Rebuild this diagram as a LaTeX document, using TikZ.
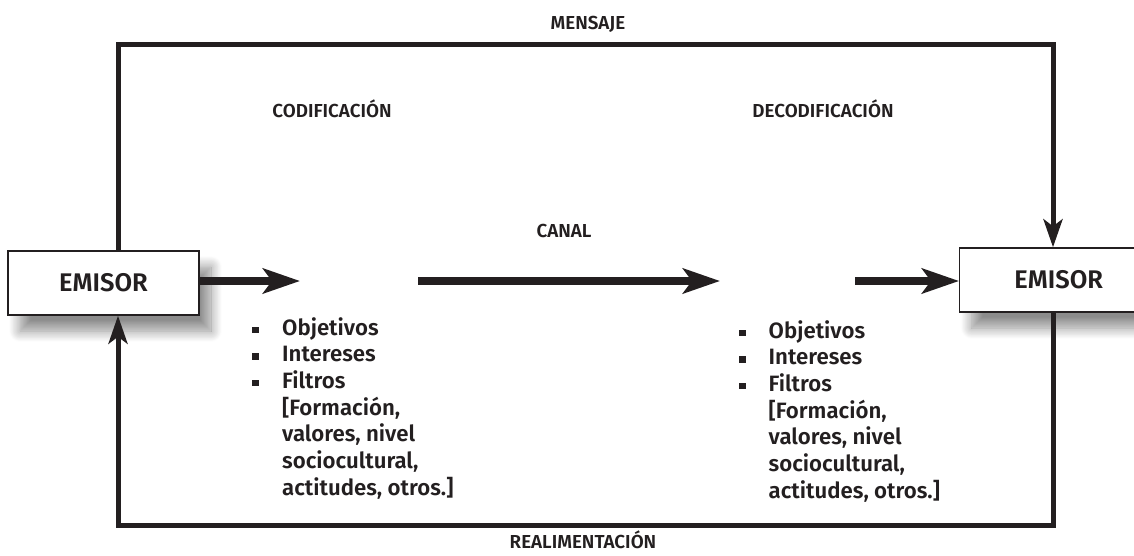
\documentclass[tikz,border=0pt]{standalone}
\usepackage{fontspec}
\setmainfont{Fira Sans}[BoldFont={Fira Sans SemiBold}]
\usetikzlibrary{arrows.meta,shadows.blur}
\definecolor{ink}{HTML}{231F20}
\newcommand\sqbullet{\raisebox{2pt}{\rule{6.5pt}{6.5pt}}}
\begin{document}
\begin{tikzpicture}[x=1pt,y=-1pt,
  every node/.style={text=ink,font=\bfseries},
  label/.style={font=\bfseries\fontsize{18.8}{20}\selectfont},
  emisorbox/.style={draw=ink,line width=1.4pt,fill=white,minimum height=64pt,
    font=\bfseries\fontsize{25.5}{27}\selectfont,
    blur shadow={shadow xshift=12pt,shadow yshift=-16pt,shadow blur radius=11pt,
      shadow opacity=45,shadow blur steps=14}},
  frameline/.style={draw=ink,line width=5pt,line join=miter,
    -{Stealth[length=28pt,width=19pt,inset=7pt]}},
  flowarrow/.style={draw=ink,line width=8pt,
    -{Stealth[length=37pt,width=25pt,inset=9pt]}},
  itemlist/.style={anchor=base west,inner sep=0pt,align=left,
    font=\bfseries\fontsize{22.2}{26.7}\selectfont}
]
\useasboundingbox (0,0) rectangle (1134,556);
\clip (0,0) rectangle (1134,556);

% emitter boxes
\node[emisorbox,minimum width=191pt] (emL) at (103.5,283) {EMISOR};
\node[emisorbox,minimum width=198pt,anchor=west] (emR) at (959,280) {EMISOR};

% corners of the message / feedback loop
\coordinate (tl) at (118,45);
\coordinate (tr) at (1053,45);
\coordinate (bl) at (118,525);
\coordinate (br) at (1053,525);

\draw[frameline] (tl |- emL.north) -- (tl) -- (tr) -- (tr |- emR.north);
\draw[frameline] (br |- emR.south) -- (br) -- (bl) -- (bl |- emL.south);

% channel arrows
\coordinate (c1) at (300,281);
\coordinate (c2s) at (418,281);
\coordinate (c2e) at (720,281);
\coordinate (c3) at (855,281);
\draw[flowarrow] (emL.east |- c1) -- (c1);
\draw[flowarrow] (c2s) -- (c2e);
\draw[flowarrow] (c3) -- (emR.west |- c3);

% labels
\node[label] (mensaje) at (588,24) {MENSAJE};
\node[label] (codif) at (332,109) {CODIFICACIÓN};
\node[label] (decodif) at (823,109) {DECODIFICACIÓN};
\node[label] (canal) at (564,231) {CANAL};
\node[label] (realim) at (583,540) {REALIMENTACIÓN};

% encoder and decoder factors
\node[itemlist] (listL) at (252,335) {%
  \begin{tabular}[t]{@{}l@{\hspace{23.5pt}}l@{}}
  \sqbullet & Objetivos\\
  \sqbullet & Intereses\\
  \sqbullet & Filtros\\
  & [Formación,\\
  & valores, nivel\\
  & sociocultural,\\
  & actitudes, otros.]
  \end{tabular}};
\node[itemlist] (listR) at (739,338) {%
  \begin{tabular}[t]{@{}l@{\hspace{23pt}}l@{}}
  \sqbullet & Objetivos\\
  \sqbullet & Intereses\\
  \sqbullet & Filtros\\
  & [Formación,\\
  & valores, nivel\\
  & sociocultural,\\
  & actitudes, otros.]
  \end{tabular}};
\end{tikzpicture}
\end{document}
